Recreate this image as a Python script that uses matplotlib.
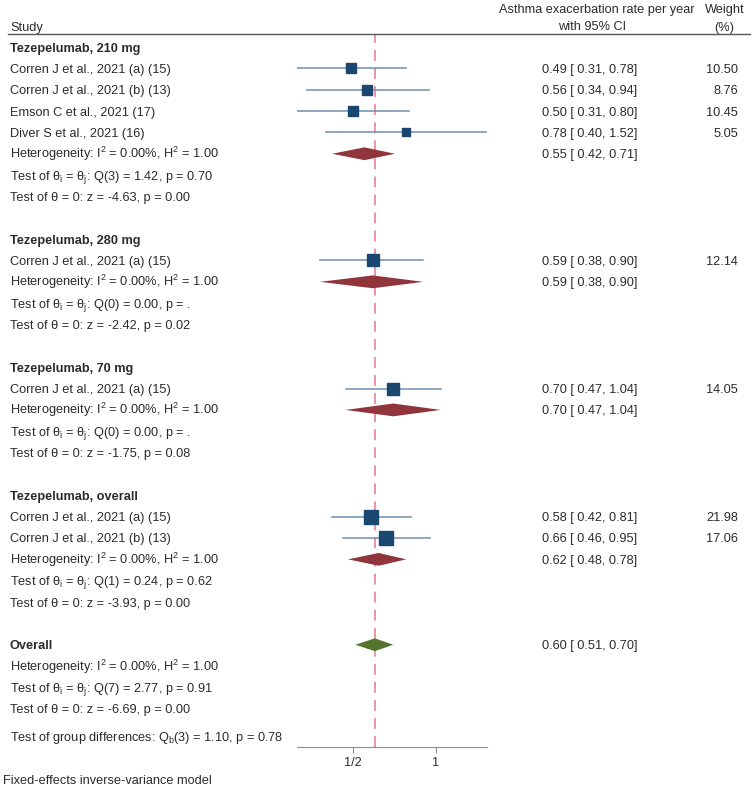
import numpy as np
import matplotlib
matplotlib.use('Agg')
import matplotlib.pyplot as plt
import matplotlib.transforms as mtrans
from matplotlib.lines import Line2D

plt.rcParams['font.family'] = ['Liberation Sans', 'DejaVu Sans']
plt.rcParams['mathtext.fontset'] = 'custom'
plt.rcParams['mathtext.rm'] = 'Liberation Sans'
plt.rcParams['mathtext.it'] = 'Liberation Sans:italic'
plt.rcParams['font.size'] = 9.2

# data
groups = ['Tezepelumab, 210 mg', 'Tezepelumab, 280 mg',
          'Tezepelumab, 70 mg', 'Tezepelumab, overall']
studies = [['Corren J et al., 2021 (a) (15)', 'Corren J et al., 2021 (b) (13)',
            'Emson C et al., 2021 (17)', 'Diver S et al., 2021 (16)'],
           ['Corren J et al., 2021 (a) (15)'],
           ['Corren J et al., 2021 (a) (15)'],
           ['Corren J et al., 2021 (a) (15)', 'Corren J et al., 2021 (b) (13)']]
est = [[0.49, 0.56, 0.50, 0.78], [0.59], [0.70], [0.58, 0.66]]
lo = [[0.31, 0.34, 0.31, 0.40], [0.38], [0.47], [0.42, 0.46]]
hi = [[0.78, 0.94, 0.80, 1.52], [0.90], [1.04], [0.81, 0.95]]
weight = [[10.50, 8.76, 10.45, 5.05], [12.14], [14.05], [21.98, 17.06]]

grp_est = [0.55, 0.59, 0.70, 0.62]
grp_lo = [0.42, 0.38, 0.47, 0.48]
grp_hi = [0.71, 0.90, 1.04, 0.78]
q_df = [3, 0, 0, 1]
q_val = [1.42, 0.00, 0.00, 0.24]
q_p = ['0.70', '.', '.', '0.62']
z_val = [-4.63, -2.42, -1.75, -3.93]
z_p = ['0.00', '0.02', '0.08', '0.00']

all_est, all_lo, all_hi = 0.60, 0.51, 0.70
all_q_df, all_q, all_q_p = 7, 2.77, '0.91'
all_z, all_z_p = -6.69, '0.00'
grpdiff_df, grpdiff_q, grpdiff_p = 3, 1.10, '0.78'

W, H = 753, 788
fig = plt.figure(figsize=(W / 100, H / 100), dpi=100)
ax = fig.add_axes([297 / W, 1 - 747 / H, 190 / W, (747 - 34) / H])
ax.set_xscale('log')
ax.set_xlim(0.3134, 1.531)
ax.set_ylim(32.79, -0.61)

tc = '#2b2b2b'
sq_c = '#1a476f'
ci_c = '#6f8fb0'
dia_c = '#90353b'
tr = mtrans.blended_transform_factory(fig.transFigure, ax.transData)
xl = 10 / W
xc = 542 / W
xw = 738 / W
boff = 0.21  # baseline offset below row centre, in rows


def ltext(y, s, **kw):
    ax.text(xl, y + boff, s, transform=tr, ha='left', va='baseline', color=tc,
            clip_on=False, **kw)


def ci_text(y, e, l, h):
    ax.text(xc, y + boff, '%.2f [ %.2f, %.2f]' % (e, l, h), transform=tr,
            ha='left', va='baseline', color=tc, clip_on=False)


def diamond(y, e, l, h, color):
    hh = 0.3
    ax.fill([l, e, h, e], [y, y - hh, y, y + hh], color=color, lw=0, zorder=3)


het = 'Heterogeneity: I$^\\mathrm{2}$ = 0.00%, H$^\\mathrm{2}$ = 1.00'
row = 0
for g in range(len(groups)):
    ltext(row, groups[g], fontweight='bold')
    row += 1
    for k in range(len(studies[g])):
        ltext(row, studies[g][k])
        ax.plot([lo[g][k], hi[g][k]], [row, row], color=ci_c, lw=1.1, zorder=2)
        ax.plot(est[g][k], row, 's', color=sq_c, ms=2.3 * np.sqrt(weight[g][k]),
                mec=sq_c, zorder=4)
        ci_text(row, est[g][k], lo[g][k], hi[g][k])
        ax.text(xw, row + boff, '%.2f' % weight[g][k], transform=tr, ha='right',
                va='baseline', color=tc, clip_on=False)
        row += 1
    ltext(row, het)
    diamond(row, grp_est[g], grp_lo[g], grp_hi[g], dia_c)
    ci_text(row, grp_est[g], grp_lo[g], grp_hi[g])
    row += 1
    ltext(row, 'Test of θ$_\\mathrm{i}$ = θ$_\\mathrm{j}$: Q(%d) = %.2f, p = %s'
          % (q_df[g], q_val[g], q_p[g]))
    row += 1
    ltext(row, 'Test of θ = 0: z = %.2f, p = %s' % (z_val[g], z_p[g]))
    row += 2

ltext(row, 'Overall', fontweight='bold')
diamond(row, all_est, all_lo, all_hi, '#55752f')
ci_text(row, all_est, all_lo, all_hi)
row += 1
ltext(row, het)
row += 1
ltext(row, 'Test of θ$_\\mathrm{i}$ = θ$_\\mathrm{j}$: Q(%d) = %.2f, p = %s'
      % (all_q_df, all_q, all_q_p))
row += 1
ltext(row, 'Test of θ = 0: z = %.2f, p = %s' % (all_z, all_z_p))
row += 1.3
ltext(row, 'Test of group differences: Q$_\\mathrm{b}$(%d) = %.2f, p = %s'
      % (grpdiff_df, grpdiff_q, grpdiff_p))

ax.axvline(all_est, color='#eb8aa0', lw=1.3, ls=(0, (6, 4)), zorder=1)

for s in ['left', 'right', 'top']:
    ax.spines[s].set_visible(False)
ax.spines['bottom'].set_color('#8c8c8c')
ax.set_yticks([])
ax.set_xticks([0.5, 1])
ax.set_xticklabels(['1/2', '1'])
ax.xaxis.set_minor_locator(matplotlib.ticker.NullLocator())
ax.tick_params(axis='x', colors='#8c8c8c', labelcolor=tc, length=4, labelsize=9.2)

# header
fig.text(10 / W, 1 - 26 / H, 'Study', ha='left', va='center_baseline', color=tc)
fig.text(597 / W, 1 - 8 / H, 'Asthma exacerbation rate per year', ha='center',
         va='center_baseline', color=tc)
fig.text(592 / W, 1 - 26 / H, 'with 95% CI', ha='center', va='center_baseline',
         color=tc)
fig.text(725 / W, 1 - 8 / H, 'Weight', ha='center', va='center_baseline', color=tc)
fig.text(724 / W, 1 - 26 / H, '(%)', ha='center', va='center_baseline', color=tc)
fig.add_artist(Line2D([8 / W, 750 / W], [1 - 34 / H, 1 - 34 / H],
                      transform=fig.transFigure, color='#555555', lw=1))

fig.text(3 / W, 1 - 780 / H, 'Fixed-effects inverse-variance model', ha='left',
         va='center_baseline', color=tc)

fig.savefig('out.png', dpi=100, facecolor='white')
